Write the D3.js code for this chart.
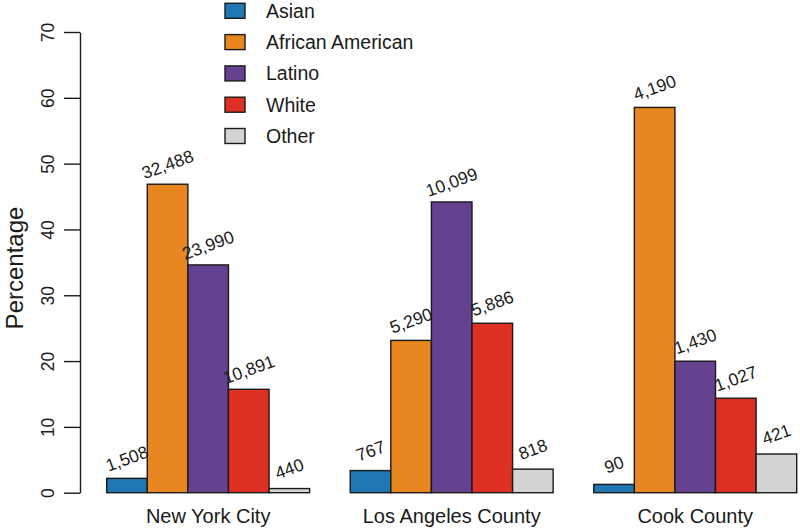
<!DOCTYPE html>
<html><head><meta charset="utf-8">
<script src="https://cdn.jsdelivr.net/npm/d3@7"></script>
<style>body{margin:0;background:#fff}svg{display:block;font-family:"Liberation Sans",Arial,sans-serif}</style>
</head><body><svg id="c" width="800" height="532"></svg>
<script>
const groups = ["New York City", "Los Angeles County", "Cook County"];
const series = ["Asian", "African American", "Latino", "White", "Other"];
const colors = ["#1f78b4", "#e8871f", "#65418f", "#df3024", "#d3d3d3"];
const pctNYC = [2.18, 46.87, 34.61, 15.71, 0.63];
const pctLA = [3.36, 23.14, 44.18, 25.75, 3.58];
const pctCook = [1.26, 58.54, 19.98, 14.35, 5.88];
const countNYC = [1508, 32488, 23990, 10891, 440];
const countLA = [767, 5290, 10099, 5886, 818];
const countCook = [90, 4190, 1430, 1027, 421];
const yTicks = [0, 10, 20, 30, 40, 50, 60, 70];

const pcts = [pctNYC, pctLA, pctCook];
const counts = [countNYC, countLA, countCook];
const svg = d3.select("#c");
const y = d3.scaleLinear().domain([0, 70]).range([492.7, 32]);
const x0 = d3.scaleBand().domain(groups).range([106.7, 796.7]).paddingInner(1/6).paddingOuter(0);
const x1 = d3.scaleBand().domain(series).range([0, x0.bandwidth()]).padding(0);
const fmt = d3.format(",");

const data = [];
groups.forEach((g, gi) => series.forEach((s, si) => data.push({g, s, si, v: pcts[gi][si], n: counts[gi][si]})));

svg.append("g").selectAll("rect").data(data).join("rect")
  .attr("x", d => x0(d.g) + x1(d.s))
  .attr("y", d => y(d.v))
  .attr("width", x1.bandwidth())
  .attr("height", d => y(0) - y(d.v))
  .attr("fill", d => colors[d.si])
  .attr("stroke", "#1a1a1a").attr("stroke-width", 1.4);

svg.append("g").selectAll("text").data(data).join("text")
  .attr("transform", d => `translate(${x0(d.g) + x1(d.s) + x1.bandwidth()/2},${y(d.v + 3)}) rotate(-20)`)
  .attr("text-anchor", "middle").attr("dominant-baseline", "central")
  .attr("font-size", 17.5).attr("fill", "#1a1a1a")
  .text(d => fmt(d.n));

// y axis
const ax = svg.append("g").attr("transform", "translate(80,0)")
  .call(d3.axisLeft(y).tickValues(yTicks).tickSize(16).tickSizeOuter(0));
ax.select(".domain").attr("stroke", "#1a1a1a").attr("stroke-width", 1.4);
ax.selectAll(".tick line").attr("stroke", "#1a1a1a").attr("stroke-width", 1.4);
ax.selectAll(".tick text")
  .attr("x", null).attr("dy", null)
  .attr("transform", "translate(-26,0) rotate(-90)")
  .attr("text-anchor", "middle")
  .attr("font-size", 17.5).attr("fill", "#1a1a1a")
  .attr("font-family", "Liberation Sans, Arial, sans-serif");

svg.append("text").attr("transform", "translate(23,268) rotate(-90)")
  .attr("text-anchor", "middle").attr("font-size", 24).attr("fill", "#1a1a1a")
  .text("Percentage");

// group labels
svg.append("g").selectAll("text").data(groups).join("text")
  .attr("x", d => x0(d) + x0.bandwidth()/2).attr("y", 523)
  .attr("text-anchor", "middle").attr("font-size", 20).attr("fill", "#1a1a1a")
  .text(d => d);

// legend
const leg = svg.append("g").selectAll("g").data(series).join("g")
  .attr("transform", (d, i) => `translate(225,${10.8 + i * 31.3})`);
leg.append("rect").attr("x", 0).attr("y", -7.5).attr("width", 20).attr("height", 15)
  .attr("fill", (d, i) => colors[i]).attr("stroke", "#1a1a1a").attr("stroke-width", 1.4);
leg.append("text").attr("x", 41).attr("y", 0).attr("dominant-baseline", "central")
  .attr("font-size", 19.5).attr("fill", "#1a1a1a").text(d => d);
</script></body></html>
